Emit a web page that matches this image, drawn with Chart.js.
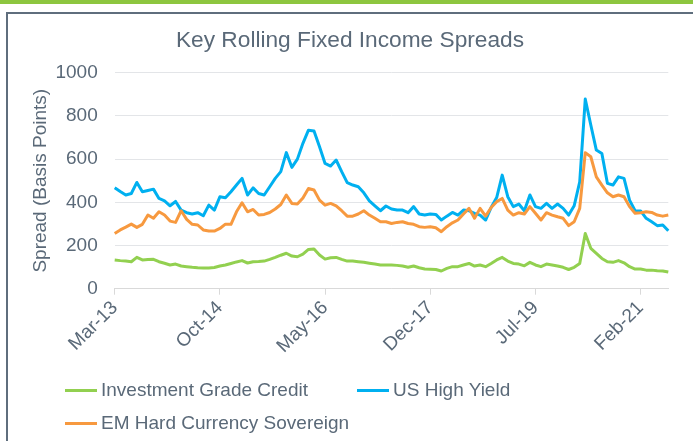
<!DOCTYPE html>
<html>
<head>
<meta charset="utf-8">
<script src="https://cdn.jsdelivr.net/npm/chart.js@4.4.1/dist/chart.umd.min.js"></script>
<style>
  body { margin: 0; width: 693px; height: 441px; overflow: hidden; background: #fff; font-family: 'Liberation Sans', Arial, sans-serif; position: relative; }
  #topbar { position: absolute; left: 0; top: 0; width: 693px; height: 4px; background: #8DC63F; }
  #frame { position: absolute; left: 6px; top: 12px; width: 700px; height: 440px; border: 2px solid #5f6e7d; box-sizing: border-box; }
  #chart { position: absolute; left: 0; top: 0; }
  #legend { position: absolute; left: 0; top: 0; width: 693px; height: 441px; pointer-events: none; }
  .item { position: absolute; display: flex; align-items: center; font-size: 19px; line-height: 22px; color: #5a6978; white-space: nowrap; }
  .item span.swatch { display: inline-block; width: 32px; height: 3px; margin-right: 4px; }
</style>
</head>
<body>
<div id="topbar"></div>
<div id="frame"></div>
<canvas id="chart" width="700" height="370"></canvas>
<div id="legend"></div>
<script>
const months = [
  'Mar-13','Apr-13','May-13','Jun-13','Jul-13','Aug-13','Sep-13','Oct-13','Nov-13','Dec-13',
  'Jan-14','Feb-14','Mar-14','Apr-14','May-14','Jun-14','Jul-14','Aug-14','Sep-14','Oct-14','Nov-14','Dec-14',
  'Jan-15','Feb-15','Mar-15','Apr-15','May-15','Jun-15','Jul-15','Aug-15','Sep-15','Oct-15','Nov-15','Dec-15',
  'Jan-16','Feb-16','Mar-16','Apr-16','May-16','Jun-16','Jul-16','Aug-16','Sep-16','Oct-16','Nov-16','Dec-16',
  'Jan-17','Feb-17','Mar-17','Apr-17','May-17','Jun-17','Jul-17','Aug-17','Sep-17','Oct-17','Nov-17','Dec-17',
  'Jan-18','Feb-18','Mar-18','Apr-18','May-18','Jun-18','Jul-18','Aug-18','Sep-18','Oct-18','Nov-18','Dec-18',
  'Jan-19','Feb-19','Mar-19','Apr-19','May-19','Jun-19','Jul-19','Aug-19','Sep-19','Oct-19','Nov-19','Dec-19',
  'Jan-20','Feb-20','Mar-20','Apr-20','May-20','Jun-20','Jul-20','Aug-20','Sep-20','Oct-20','Nov-20','Dec-20',
  'Jan-21','Feb-21','Mar-21','Apr-21','May-21','Jun-21','Jul-21'
];
// only these month labels are printed under the axis
const tickLabels = ['Mar-13', 'Oct-14', 'May-16', 'Dec-17', 'Jul-19', 'Feb-21'];

const igCredit = [
  133,130,128,125,145,133,135,136,125,118,
  110,114,105,102,99,97,96,96,98,105,
  110,117,124,130,119,125,126,128,136,145,
  155,164,151,148,160,182,184,156,137,143,
  145,136,128,128,125,122,118,114,110,110,
  110,108,105,99,105,97,91,90,89,82,
  94,102,102,110,117,105,110,102,117,133,
  145,128,117,114,106,122,110,102,114,110,
  105,99,89,99,117,256,187,164,140,125,
  122,130,120,102,91,91,86,86,83,82,
  77
];
const usHighYield = [
  467,450,434,441,492,449,455,461,418,407,
  384,404,364,352,346,352,338,387,364,426,
  421,449,480,511,434,467,441,434,472,511,
  542,630,562,600,673,734,730,657,580,568,
  596,542,491,480,472,444,407,384,361,383,
  369,364,364,352,380,346,341,346,344,318,
  336,353,341,364,361,349,341,318,376,422,
  526,426,380,392,361,434,380,372,395,372,
  392,372,341,384,495,878,758,642,626,488,
  480,518,511,410,361,360,326,310,292,295,
  268
];
const emHardCcy = [
  256,272,285,299,284,298,341,326,356,341,
  313,307,361,321,298,295,272,267,267,279,
  299,298,356,398,356,367,341,344,353,369,
  390,434,395,392,420,464,457,410,387,395,
  384,361,336,336,346,361,341,326,310,310,
  302,307,310,302,298,287,284,287,282,264,
  287,305,318,346,372,326,372,336,376,403,
  418,364,341,352,346,380,349,318,352,341,
  333,326,292,310,372,630,611,518,480,444,
  426,434,426,380,349,352,356,353,341,336,
  341
];

const textColor = '#5a6978';
const gridColor = '#e3e5e8';
Chart.defaults.font.family = "'Liberation Sans', Arial, sans-serif";
Chart.defaults.font.size = 19;
Chart.defaults.color = textColor;

function series(label, data, color, order) {
    return {
        label: label,
        data: data,
        borderColor: color,
        backgroundColor: color,
        borderWidth: 3,
        pointRadius: 0,
        tension: 0,
        borderJoinStyle: 'round',
        fill: false,
        order: order
    };
}

// legend is drawn as html so the two-column layout matches
const htmlLegend = {
    id: 'htmlLegend',
    afterUpdate(chart) {
        const box = document.getElementById('legend');
        box.innerHTML = '';
        const spots = [[65, 379], [357, 379], [65, 412]];
        chart.data.datasets.forEach((ds, i) => {
            const el = document.createElement('div');
            el.className = 'item';
            el.style.left = spots[i][0] + 'px';
            el.style.top = spots[i][1] + 'px';
            const sw = document.createElement('span');
            sw.className = 'swatch';
            sw.style.background = ds.borderColor;
            el.appendChild(sw);
            el.appendChild(document.createTextNode(ds.label));
            box.appendChild(el);
        });
    }
};

new Chart(document.getElementById('chart'), {
    type: 'line',
    data: {
        labels: months,
        datasets: [
            series('Investment Grade Credit', igCredit, '#92D050', 3),
            series('US High Yield', usHighYield, '#00B0F0', 2),
            series('EM Hard Currency Sovereign', emHardCcy, '#F7993F', 1)
        ]
    },
    options: {
        responsive: false,
        animation: false,
        layout: { padding: 0 },
        scales: {
            x: {
                offset: false,
                grid: { drawOnChartArea: false, drawTicks: true, tickLength: 6, tickColor: '#d9d9d9' },
                border: { color: '#d9d9d9' },
                ticks: {
                    autoSkip: false,
                    minRotation: 45,
                    maxRotation: 45,
                    padding: 2,
                    callback: function(value, index) {
                        const lbl = months[index];
                        return tickLabels.includes(lbl) ? lbl : null;
                    }
                },
                afterFit: function(axis) { axis.height = 81.3; }
            },
            y: {
                min: 0,
                max: 1000,
                ticks: { stepSize: 200, padding: 17, callback: v => String(v) },
                grid: { color: gridColor, drawTicks: false },
                border: { display: false },
                title: {
                    display: true,
                    text: 'Spread (Basis Points)',
                    font: { size: 19 },
                    padding: { top: 29, bottom: 0 }
                },
                afterFit: function(axis) { axis.width = 114.7; }
            },
            // empty spacer on the right so the title centres over the frame
            yRight: {
                position: 'right',
                display: true,
                grid: { display: false },
                border: { display: false },
                ticks: { display: false },
                afterFit: function(axis) { axis.width = 31.7; }
            }
        },
        plugins: {
            legend: { display: false },
            tooltip: { enabled: false },
            title: {
                display: true,
                text: 'Key Rolling Fixed Income Spreads',
                font: { size: 22.7, weight: 'normal' },
                color: textColor,
                padding: { top: 27.6, bottom: 17.9 }
            }
        }
    },
    plugins: [htmlLegend]
});
</script>
</body>
</html>
